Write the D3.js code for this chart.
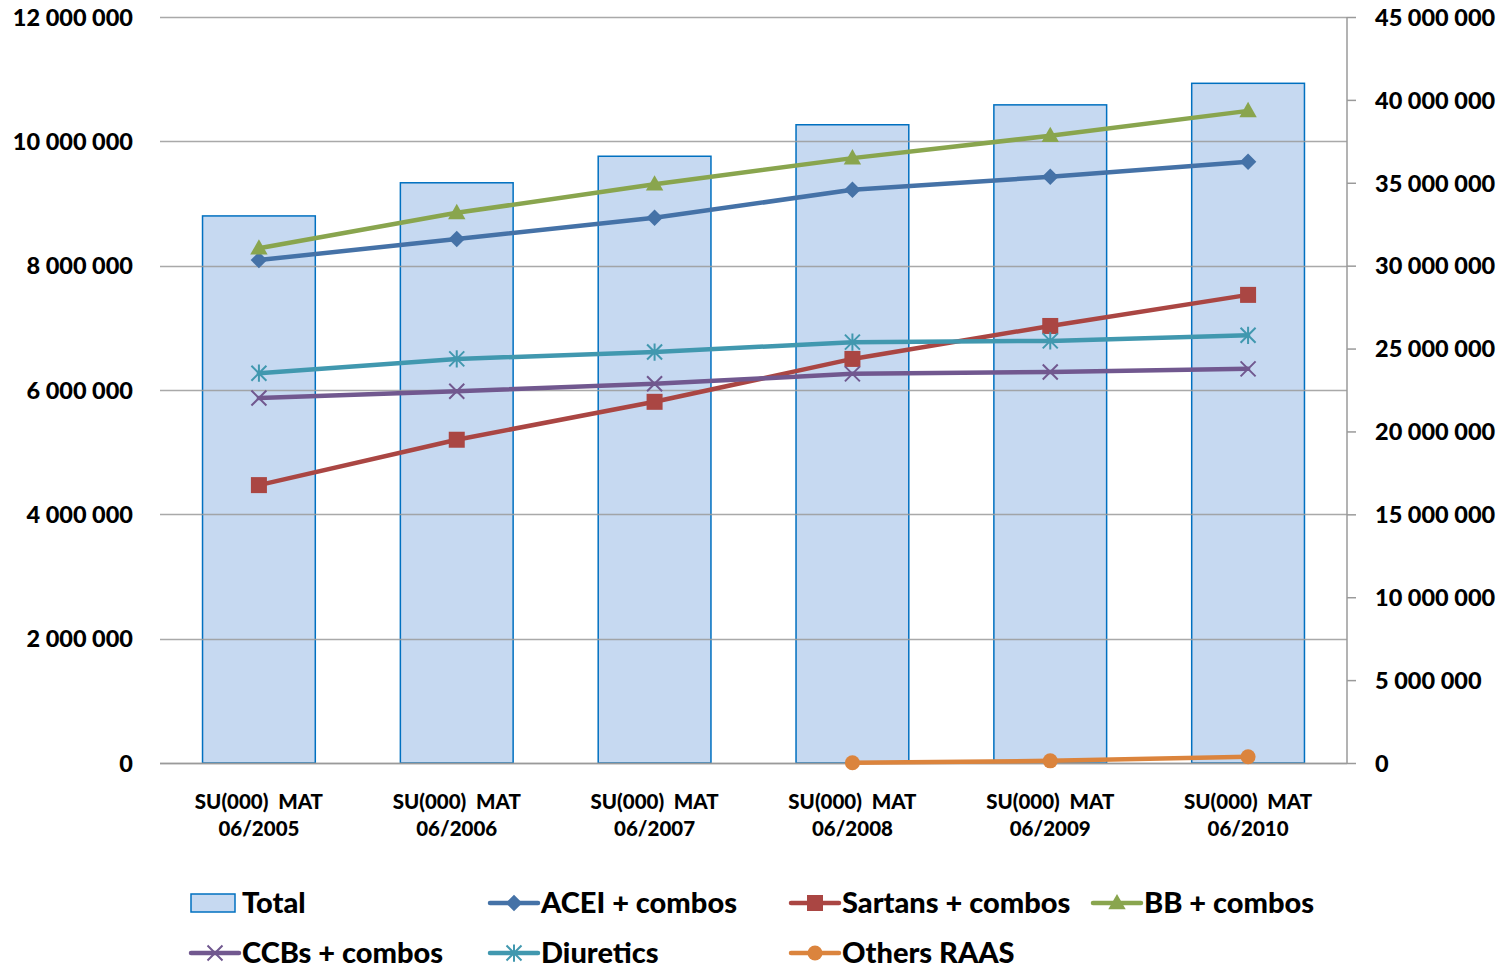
<!DOCTYPE html>
<html>
<head>
<meta charset="utf-8">
<script src="https://cdn.jsdelivr.net/npm/d3@7/dist/d3.min.js"></script>
<style>
  html, body { margin: 0; padding: 0; background: #fff; }
  svg text { font-family: Lato, "Open Sans", sans-serif; font-weight: 900; fill: #000; }
</style>
</head>
<body>
<svg id="chart" width="1508" height="970"></svg>
<script>
// Periods (x categories)
const categories = ["SU(000)  MAT 06/2005", "SU(000)  MAT 06/2006", "SU(000)  MAT 06/2007",
                    "SU(000)  MAT 06/2008", "SU(000)  MAT 06/2009", "SU(000)  MAT 06/2010"];

// Bars, plotted on the right axis
const total = [33000000, 35000000, 36600000, 38500000, 39700000, 41000000];

// Lines, plotted on the left axis
const acei      = [8090000, 8430000, 8770000, 9220000, 9430000, 9670000];
const sartans   = [4470000, 5200000, 5810000, 6500000, 7030000, 7530000];
const bb        = [8280000, 8850000, 9310000, 9730000, 10090000, 10490000];
const ccbs      = [5870000, 5980000, 6100000, 6260000, 6290000, 6340000];
const diuretics = [6270000, 6500000, 6610000, 6770000, 6790000, 6880000];
const othersRaas = [null, null, null, 5000, 35000, 100000];

const leftTicks  = [0, 2000000, 4000000, 6000000, 8000000, 10000000, 12000000];
const rightTicks = [0, 5000000, 10000000, 15000000, 20000000, 25000000, 30000000, 35000000, 40000000, 45000000];

const series = [
  { name: "ACEI + combos",     values: acei,       color: "#4572A7", marker: "diamond" },
  { name: "Sartans + combos",  values: sartans,    color: "#AA4643", marker: "square" },
  { name: "BB + combos",       values: bb,         color: "#89A54E", marker: "triangle" },
  { name: "CCBs + combos",     values: ccbs,       color: "#71588F", marker: "x" },
  { name: "Diuretics",         values: diuretics,  color: "#4198AF", marker: "star" },
  { name: "Others RAAS",       values: othersRaas, color: "#DB843D", marker: "circle" }
];

const fmt = v => d3.format(",")(v).replace(/,/g, " ");

const svg = d3.select("#chart");
const plot = { left: 160, right: 1347, top: 17, bottom: 763 };

const x = d3.scaleBand().domain(categories).range([plot.left, plot.right]).paddingInner(0.43).paddingOuter(0.215);
const yL = d3.scaleLinear().domain([0, 12000000]).range([plot.bottom, plot.top]);
const yR = d3.scaleLinear().domain([0, 45000000]).range([plot.bottom, plot.top]);
const cx = c => x(c) + x.bandwidth() / 2;

// Bars (Total)
svg.append("g").selectAll("rect").data(total).join("rect")
  .attr("x", (d, i) => x(categories[i]))
  .attr("y", d => yR(d))
  .attr("width", x.bandwidth())
  .attr("height", d => yR(0) - yR(d))
  .attr("fill", "#C6D9F1")
  .attr("stroke", "#0070C0")
  .attr("stroke-width", 1.5);

// Horizontal gridlines from the left axis
svg.append("g").selectAll("line").data(leftTicks).join("line")
  .attr("x1", plot.left).attr("x2", plot.right)
  .attr("y1", d => Math.round(yL(d)) + 0.5).attr("y2", d => Math.round(yL(d)) + 0.5)
  .attr("stroke", "#9a9a9a").attr("stroke-opacity", 0.85).attr("stroke-width", 1.5);

// Left axis labels
const leftAxis = d3.axisLeft(yL).tickValues(leftTicks).tickFormat(fmt).tickSize(0).tickPadding(0);
const gl = svg.append("g").attr("transform", `translate(${133},0)`).call(leftAxis);
gl.select(".domain").remove();
gl.selectAll("text").style("font-size", "23.5px").attr("fill", "#000").attr("dy", "0.35em");

// Right axis
const rightAxis = d3.axisRight(yR).tickValues(rightTicks).tickFormat(fmt).tickSize(9).tickPadding(19);
const gr = svg.append("g").attr("transform", `translate(${plot.right},0)`).call(rightAxis);
gr.select(".domain").attr("stroke", "#9a9a9a").attr("stroke-width", 1.5).attr("d", `M0,${plot.top}V${plot.bottom}`);
gr.selectAll(".tick line").attr("stroke", "#9a9a9a").attr("stroke-width", 1.5);
gr.selectAll("text").style("font-size", "23.5px").attr("fill", "#000").attr("dy", "0.35em");

// Category axis baseline + labels
svg.append("line").attr("x1", plot.left).attr("x2", plot.right)
  .attr("y1", plot.bottom + 0.5).attr("y2", plot.bottom + 0.5)
  .attr("stroke", "#9a9a9a").attr("stroke-width", 1.5);

const xl = svg.append("g").selectAll("text").data(categories).join("text")
  .attr("x", d => cx(d)).attr("y", 809)
  .attr("text-anchor", "middle")
  .style("font-size", "20.5px")
  .style("white-space", "pre");
xl.append("tspan").attr("x", d => cx(d)).attr("dy", 0).text(d => d.slice(0, 12));
xl.append("tspan").attr("x", d => cx(d)).attr("dy", 27).text(d => d.slice(13));

// Marker drawing
function drawMarker(g, type, color, size) {
  const s = size;
  if (type === "diamond") {
    g.append("path").attr("d", `M0,${-s * 0.55}L${s * 0.55},0L0,${s * 0.55}L${-s * 0.55},0Z`).attr("fill", color);
  } else if (type === "square") {
    g.append("rect").attr("x", -s / 2).attr("y", -s / 2).attr("width", s).attr("height", s).attr("fill", color);
  } else if (type === "triangle") {
    g.append("path").attr("d", `M0,${-s * 0.6}L${s * 0.58},${s * 0.42}L${-s * 0.58},${s * 0.42}Z`).attr("fill", color);
  } else if (type === "circle") {
    g.append("circle").attr("r", s / 2).attr("fill", color);
  } else if (type === "x") {
    const h = s / 2;
    g.append("path").attr("d", `M${-h},${-h}L${h},${h}M${-h},${h}L${h},${-h}`).attr("stroke", color).attr("stroke-width", 2);
  } else if (type === "star") {
    const h = s / 2;
    g.append("path").attr("d", `M${-h},${-h}L${h},${h}M${-h},${h}L${h},${-h}M0,${-h * 1.15}L0,${h * 1.15}`).attr("stroke", color).attr("stroke-width", 2);
  }
}

// Lines
const lineGen = d3.line()
  .defined(d => d.v !== null)
  .x(d => cx(d.c)).y(d => yL(d.v));

series.forEach(s => {
  const pts = s.values.map((v, i) => ({ c: categories[i], v }));
  svg.append("path").datum(pts)
    .attr("d", lineGen)
    .attr("fill", "none")
    .attr("stroke", s.color)
    .attr("stroke-width", 4.5)
    .attr("stroke-linejoin", "round")
    .attr("stroke-linecap", "round");
  pts.filter(p => p.v !== null).forEach(p => {
    const g = svg.append("g").attr("transform", `translate(${cx(p.c)},${yL(p.v)})`);
    drawMarker(g, s.marker, s.color, s.marker === "square" ? 16 : 15);
  });
});

// Legend
const legendItems = [
  { name: "Total", type: "bar" },
  series[0], series[1], series[2],
  series[3], series[4], series[5]
];
const colX = [191, 490, 791, 1093];
const rowY = [903, 953];
legendItems.forEach((it, i) => {
  const col = i % 4, row = Math.floor(i / 4);
  const gx = colX[col], gy = rowY[row];
  const g = svg.append("g").attr("transform", `translate(${gx},${gy})`);
  if (it.type === "bar") {
    g.append("rect").attr("x", 0).attr("y", -9).attr("width", 44).attr("height", 18)
      .attr("fill", "#C6D9F1").attr("stroke", "#0070C0").attr("stroke-width", 1.5);
  } else {
    g.append("line").attr("x1", 0).attr("x2", 48).attr("y1", 0).attr("y2", 0)
      .attr("stroke", it.color).attr("stroke-width", 4.5).attr("stroke-linecap", "round");
    const m = g.append("g").attr("transform", "translate(24,0)");
    drawMarker(m, it.marker, it.color, it.marker === "square" ? 16 : 15);
  }
  g.append("text").attr("x", 51).attr("y", 0).attr("dy", "0.34em")
    .style("font-size", "29px").text(it.name);
});
</script>
</body>
</html>
